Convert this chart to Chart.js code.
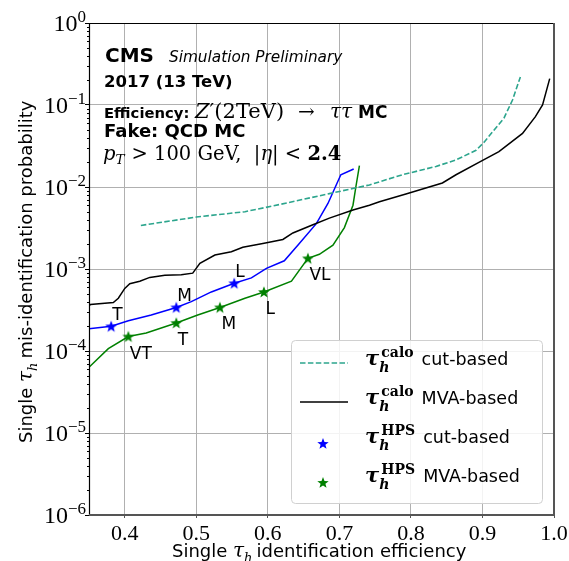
<!DOCTYPE html>
<html>
<head>
<meta charset="utf-8">
<script src="https://cdn.jsdelivr.net/npm/chart.js@4.4.1/dist/chart.umd.min.js"></script>
<style>
  html, body { margin: 0; padding: 0; background: #fff; }
  #wrap { width: 569px; height: 561px; }
</style>
</head>
<body>
<div id="wrap"><canvas id="chart" width="569" height="561"></canvas></div>
<script>
// Axis ticks
const X_TICKS = [0.4, 0.5, 0.6, 0.7, 0.8, 0.9, 1.0];
const Y_TICKS = [1e-6, 1e-5, 1e-4, 1e-3, 1e-2, 1e-1, 1];

// tau_h calo cut-based (dashed)
const CALO_CUT_EFF = [0.4225, 0.50, 0.568, 0.616, 0.686, 0.742, 0.788, 0.835, 0.863, 0.891, 0.902, 0.930, 0.942, 0.953];
const CALO_CUT_FAKE = [3.4e-3, 4.3e-3, 5.0e-3, 6.1e-3, 8.3e-3, 1.06e-2, 1.41e-2, 1.78e-2, 2.14e-2, 2.8e-2, 3.5e-2, 6.9e-2, 0.115, 0.22];

// tau_h calo MVA-based (black)
const CALO_MVA_EFF = [0.349, 0.352, 0.384, 0.391, 0.400, 0.407, 0.421, 0.435, 0.456, 0.479, 0.495, 0.505, 0.526, 0.549,
  0.565, 0.593, 0.621, 0.635, 0.663, 0.686, 0.719, 0.742, 0.756, 0.793, 0.844, 0.863, 0.895, 0.923, 0.956, 0.974, 0.984, 0.994];
const CALO_MVA_FAKE = [3.47e-4, 3.7e-4, 3.9e-4, 4.4e-4, 5.8e-4, 6.6e-4, 7.1e-4, 7.9e-4, 8.4e-4, 8.5e-4, 8.9e-4, 1.17e-3, 1.48e-3, 1.62e-3,
  1.84e-3, 2.04e-3, 2.29e-3, 2.75e-3, 3.47e-3, 4.17e-3, 5.25e-3, 6.0e-3, 6.6e-3, 8.2e-3, 1.12e-2, 1.41e-2, 2.0e-2, 2.7e-2, 4.5e-2, 7.2e-2, 0.10, 0.21];

// tau_h HPS cut-based (blue)
const HPS_CUT_EFF = [0.349, 0.381, 0.405, 0.437, 0.472, 0.493, 0.521, 0.553, 0.577, 0.598, 0.623, 0.644, 0.668, 0.684, 0.702, 0.720];
const HPS_CUT_FAKE = [1.86e-4, 2.0e-4, 2.34e-4, 2.75e-4, 3.4e-4, 4.0e-4, 5.25e-4, 6.7e-4, 7.8e-4, 1.02e-3, 1.26e-3, 2.04e-3, 3.6e-3, 6.3e-3, 1.41e-2, 1.66e-2];
const HPS_CUT_WP = ["T", "M", "L"];
const HPS_CUT_WP_EFF = [0.381, 0.472, 0.553];
const HPS_CUT_WP_FAKE = [2.0e-4, 3.4e-4, 6.7e-4];

// tau_h HPS MVA-based (green)
const HPS_MVA_EFF = [0.349, 0.377, 0.405, 0.430, 0.472, 0.502, 0.533, 0.568, 0.5945, 0.633, 0.656, 0.672, 0.691, 0.707, 0.719, 0.723, 0.728];
const HPS_MVA_FAKE = [6.2e-5, 1.07e-4, 1.5e-4, 1.66e-4, 2.2e-4, 2.75e-4, 3.4e-4, 4.4e-4, 5.25e-4, 7.1e-4, 1.35e-3, 1.51e-3, 1.95e-3, 3.2e-3, 6.0e-3, 1.0e-2, 1.82e-2];
const HPS_MVA_WP = ["VT", "T", "M", "L", "VL"];
const HPS_MVA_WP_EFF = [0.405, 0.472, 0.533, 0.5945, 0.656];
const HPS_MVA_WP_FAKE = [1.5e-4, 2.2e-4, 3.4e-4, 5.25e-4, 1.35e-3];

const TEAL = "#2ca58d";
const BLUE = "#0000ff";
const GREEN = "#008000";
const SANS = "DejaVu Sans";
const SERIF = "DejaVu Serif";

const pts = (xs, ys) => xs.map((x, i) => ({ x, y: ys[i] }));

function drawStar(ctx, cx, cy, r, color) {
  ctx.save();
  ctx.beginPath();
  for (let i = 0; i < 10; i++) {
    const rad = i % 2 === 0 ? r : r * 0.42;
    const a = -Math.PI / 2 + (i * Math.PI) / 5;
    const px = cx + rad * Math.cos(a);
    const py = cy + rad * Math.sin(a);
    if (i === 0) ctx.moveTo(px, py); else ctx.lineTo(px, py);
  }
  ctx.closePath();
  ctx.fillStyle = color;
  ctx.fill();
  ctx.restore();
}

function starImage(color) {
  const c = document.createElement("canvas");
  c.width = 14; c.height = 14;
  drawStar(c.getContext("2d"), 7, 7.4, 6.2, color);
  return c;
}

// Draws a sequence of text runs, returns end x
function runs(ctx, x, y, parts) {
  for (const p of parts) {
    ctx.font = p.f;
    ctx.fillText(p.t, x, y + (p.dy || 0));
    x += ctx.measureText(p.t).width + (p.gap || 0);
  }
  return x;
}

function tauRuns(sup) {
  return [
    { t: "τ", f: `bold italic 21px ${SERIF}`, gap: 0 },
    { t: "h", f: `bold italic 14px ${SERIF}`, dy: 7, gap: -8 },
    { t: sup, f: `bold 14px ${SERIF}`, dy: -8, gap: 8 },
  ];
}

const overlay = {
  id: "overlay",
  afterDatasetsDraw(chart) {
    const { ctx, chartArea: a, scales: { x, y } } = chart;
    ctx.save();
    ctx.fillStyle = "#000";
    ctx.textAlign = "left";
    ctx.textBaseline = "alphabetic";

    // working point labels
    ctx.font = `17px ${SANS}`;
    HPS_CUT_WP.forEach((t, i) => {
      ctx.fillText(t, x.getPixelForValue(HPS_CUT_WP_EFF[i]) + 1, y.getPixelForValue(HPS_CUT_WP_FAKE[i]) - 6);
    });
    HPS_MVA_WP.forEach((t, i) => {
      ctx.fillText(t, x.getPixelForValue(HPS_MVA_WP_EFF[i]) + 1.5, y.getPixelForValue(HPS_MVA_WP_FAKE[i]) + 22);
    });

    // spines
    ctx.lineWidth = 1.2;
    ctx.strokeStyle = "#000";
    ctx.beginPath();
    ctx.moveTo(a.left + 0.5, a.bottom);
    ctx.lineTo(a.left + 0.5, a.top + 0.5);
    ctx.lineTo(a.right, a.top + 0.5);
    ctx.stroke();
    ctx.lineWidth = 2;
    ctx.strokeStyle = "#555";
    ctx.beginPath();
    ctx.moveTo(a.left, a.bottom);
    ctx.lineTo(a.right, a.bottom);
    ctx.lineTo(a.right, a.top);
    ctx.stroke();

    // minor ticks on log axis
    ctx.lineWidth = 1;
    ctx.strokeStyle = "#000";
    for (let e = -6; e < 0; e++) {
      for (let m = 2; m <= 9; m++) {
        const py = Math.round(y.getPixelForValue(m * Math.pow(10, e))) + 0.5;
        ctx.beginPath();
        ctx.moveTo(a.left - 2, py);
        ctx.lineTo(a.left, py);
        ctx.stroke();
      }
    }

    // y tick labels 10^n
    Y_TICKS.forEach((v) => {
      const py = y.getPixelForValue(v);
      const n = Math.round(Math.log10(v));
      const ex = n === 0 ? "0" : "−" + Math.abs(n);
      ctx.font = `17px Liberation Serif`;
      const ew = ctx.measureText(ex).width;
      ctx.font = `24px Liberation Serif`;
      const bw = ctx.measureText("10").width;
      const right = a.left - 3;
      ctx.fillText("10", right - ew - bw, py + 8);
      ctx.font = `17px Liberation Serif`;
      ctx.fillText(ex, right - ew, py - 1);
    });

    // axis titles
    runs(ctx, 172, 557, [
      { t: "Single ", f: `18px ${SANS}` },
      { t: "τ", f: `italic 20px ${SERIF}` },
      { t: "h", f: `italic 13px ${SERIF}`, dy: 5, gap: 4 },
      { t: "identification efficiency", f: `18px ${SANS}` },
    ]);
    ctx.save();
    ctx.translate(32, 443);
    ctx.rotate(-Math.PI / 2);
    runs(ctx, 0, 0, [
      { t: "Single ", f: `18px ${SANS}` },
      { t: "τ", f: `italic 20px ${SERIF}` },
      { t: "h", f: `italic 13px ${SERIF}`, dy: 5, gap: 4 },
      { t: "mis-identification probability", f: `18px ${SANS}` },
    ]);
    ctx.restore();

    // header texts
    ctx.font = `bold 20px ${SANS}`;
    ctx.fillText("CMS", 105, 62);
    ctx.font = `italic 15.3px ${SANS}`;
    ctx.fillText("Simulation Preliminary", 169, 62);
    ctx.font = `bold 16.5px ${SANS}`;
    ctx.fillText("2017 (13 TeV)", 104, 87);
    ctx.font = `bold 14.8px ${SANS}`;
    ctx.fillText("Efficiency:", 104, 118);
    runs(ctx, 195, 118, [
      { t: "Z", f: `italic 21px ${SERIF}` },
      { t: "′", f: `21px ${SERIF}` },
      { t: "(2TeV)", f: `21px ${SERIF}` },
    ]);
    ctx.font = `20px ${SERIF}`;
    ctx.fillText("→", 298, 118);
    ctx.font = `italic 20px ${SERIF}`;
    ctx.fillText("ττ", 330, 118);
    ctx.font = `bold 17px ${SANS}`;
    ctx.fillText("MC", 358, 118);
    ctx.font = `bold 18px ${SANS}`;
    ctx.fillText("Fake: QCD MC", 104, 137);
    runs(ctx, 103, 160, [
      { t: "p", f: `italic 19.5px ${SERIF}` },
      { t: "T", f: `italic 13.5px ${SERIF}`, dy: 4, gap: 7 },
      { t: "> 100 GeV,  |", f: `19.5px ${SERIF}` },
      { t: "η", f: `italic 19.5px ${SERIF}` },
      { t: "| < ", f: `19.5px ${SERIF}` },
      { t: "2.4", f: `bold 19.5px ${SERIF}` },
    ]);

    // legend
    ctx.beginPath();
    ctx.roundRect(291.5, 340.5, 251, 163, 4);
    ctx.fillStyle = "rgba(255,255,255,0.85)";
    ctx.fill();
    ctx.strokeStyle = "#d0d0d0";
    ctx.lineWidth = 1;
    ctx.stroke();

    ctx.lineWidth = 1.5;
    ctx.strokeStyle = TEAL;
    ctx.setLineDash([5.5, 2.4]);
    ctx.beginPath(); ctx.moveTo(300, 363); ctx.lineTo(348, 363); ctx.stroke();
    ctx.setLineDash([]);
    ctx.strokeStyle = "#000";
    ctx.beginPath(); ctx.moveTo(300, 402); ctx.lineTo(348, 402); ctx.stroke();
    drawStar(ctx, 323, 444, 6, BLUE);
    drawStar(ctx, 323, 483, 6, GREEN);

    ctx.fillStyle = "#000";
    const rows = [
      ["calo", "cut-based", 365],
      ["calo", "MVA-based", 403.5],
      ["HPS", "cut-based", 443],
      ["HPS", "MVA-based", 482],
    ];
    rows.forEach(([sup, txt, by]) => {
      const ex = runs(ctx, 365, by, tauRuns(sup));
      ctx.font = `17.5px ${SANS}`;
      ctx.fillText(txt, ex, by);
    });

    ctx.restore();
  },
};

new Chart(document.getElementById("chart"), {
  type: "scatter",
  data: {
    datasets: [
      {
        data: pts(CALO_CUT_EFF, CALO_CUT_FAKE),
        showLine: true, borderColor: TEAL, borderWidth: 1.6, borderDash: [5.5, 2.4], pointRadius: 0,
      },
      {
        data: pts(CALO_MVA_EFF, CALO_MVA_FAKE),
        showLine: true, borderColor: "#000", borderWidth: 1.5, pointRadius: 0,
      },
      {
        data: pts(HPS_CUT_EFF, HPS_CUT_FAKE),
        showLine: true, borderColor: BLUE, borderWidth: 1.5, pointRadius: 0,
      },
      {
        data: pts(HPS_MVA_EFF, HPS_MVA_FAKE),
        showLine: true, borderColor: GREEN, borderWidth: 1.5, pointRadius: 0,
      },
      {
        data: pts(HPS_CUT_WP_EFF, HPS_CUT_WP_FAKE),
        showLine: false, pointStyle: starImage(BLUE), pointRadius: 6,
      },
      {
        data: pts(HPS_MVA_WP_EFF, HPS_MVA_WP_FAKE),
        showLine: false, pointStyle: starImage(GREEN), pointRadius: 6,
      },
    ],
  },
  options: {
    responsive: false,
    animation: false,
    events: [],
    layout: { padding: { top: 23, right: 15, left: 0, bottom: 0 } },
    plugins: { legend: { display: false }, tooltip: { enabled: false } },
    scales: {
      x: {
        type: "linear",
        min: 0.35,
        max: 1.0,
        afterBuildTicks: (s) => { s.ticks = X_TICKS.map((v) => ({ value: v })); },
        afterFit: (s) => { s.height = 46; s.paddingLeft = 0; s.paddingRight = 0; },
        border: { display: false },
        grid: { color: "#b0b0b0", lineWidth: 1, drawTicks: true, tickLength: 3, tickColor: "#555" },
        ticks: {
          color: "#000",
          font: { family: "Liberation Serif", size: 22 },
          padding: 3,
          maxRotation: 0,
          autoSkip: false,
          callback: (v) => Number(v).toFixed(1),
        },
      },
      y: {
        type: "logarithmic",
        min: 1e-6,
        max: 1,
        afterBuildTicks: (s) => { s.ticks = Y_TICKS.map((v) => ({ value: v, major: true })); },
        afterFit: (s) => { s.width = 89; s.paddingTop = 0; s.paddingBottom = 0; },
        border: { display: false },
        grid: { color: "#b0b0b0", lineWidth: 1, tickColor: "#000", tickLength: 4, drawTicks: true },
        ticks: { display: false },
      },
    },
  },
  plugins: [overlay],
});
</script>
</body>
</html>
